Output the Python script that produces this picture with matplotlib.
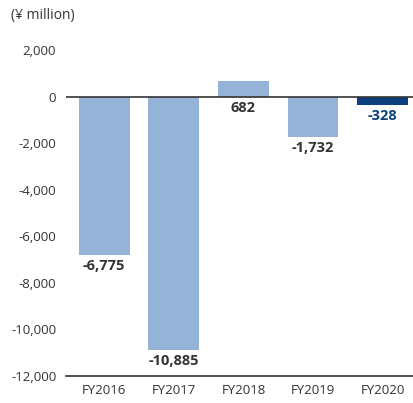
import matplotlib.pyplot as plt
from matplotlib.ticker import FuncFormatter

categories = ["FY2016", "FY2017", "FY2018", "FY2019", "FY2020"]
values = [-6775, -10885, 682, -1732, -328]
labels = ["-6,775", "-10,885", "682", "-1,732", "-328"]
bar_colors = ["#94b3d7", "#94b3d7", "#94b3d7", "#94b3d7", "#0b3f7d"]
label_colors = ["#333333", "#333333", "#333333", "#333333", "#0b3f7d"]
yticks = [-12000, -10000, -8000, -6000, -4000, -2000, 0, 2000]

plt.rcParams['font.family'] = ['Open Sans', 'DejaVu Sans']

fig = plt.figure(figsize=(4.14, 4.03), dpi=100)
H = 403
ytop = 2800
ax = fig.add_axes([66/414, 1 - 376/H, 1 - 66/414, (376 - (97 - ytop*46.5/2000))/H])

x = range(len(categories))
ax.bar(x, values, width=0.73, color=bar_colors, zorder=2)
ax.axhline(0, color="#333333", lw=1.2, zorder=3)
ax.set_xlim(-0.55, 4.45)
ax.set_ylim(-12000, ytop)

for i, (v, lab, c) in enumerate(zip(values, labels, label_colors)):
    yv = min(v, 0)
    ax.annotate(lab, (i, yv), xytext=(0, -3), textcoords="offset points",
                ha="center", va="top", fontsize=10.5, fontweight="bold", color=c)

ax.set_xticks(list(x))
ax.set_xticklabels(categories)
ax.set_yticks(yticks)
ax.yaxis.set_major_formatter(FuncFormatter(lambda v, p: f"{int(v):,}"))
ax.tick_params(axis="both", length=0, labelsize=9.5, colors="#333333")
ax.tick_params(axis="x", pad=6)
ax.tick_params(axis="y", pad=7)
for s in ["top", "right", "left"]:
    ax.spines[s].set_visible(False)
ax.spines["bottom"].set_color("#333333")
ax.spines["bottom"].set_linewidth(1.2)

fig.text(11/414, 1 - 15/H, "(¥ million)", fontsize=10, color="#333333", va="center", ha="left")

fig.savefig("out.png", dpi=100)
